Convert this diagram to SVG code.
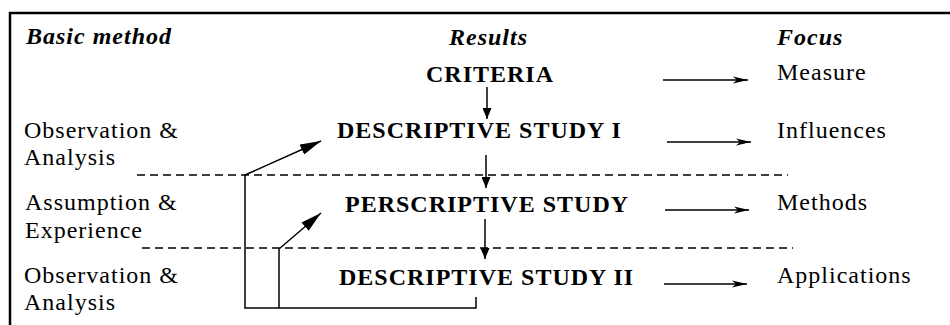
<svg xmlns="http://www.w3.org/2000/svg" width="950" height="325" viewBox="0 0 950 325">
<style>
text{font-family:"Liberation Serif","Times New Roman",serif;font-size:24px;fill:#000;letter-spacing:1px}
.h{font-weight:bold;font-style:italic}
.b{font-weight:bold}
.ln{stroke:#000;stroke-width:1.5;fill:none}
.dash{stroke:#000;stroke-width:1.5;stroke-dasharray:8,5;fill:none}
</style>
<defs>
<marker id="down" markerUnits="userSpaceOnUse" markerWidth="12" markerHeight="9" refX="11" refY="4.5" orient="auto"><path d="M0,0 L11,4.5 L0,9 z" fill="#000"/></marker>
<marker id="right" markerUnits="userSpaceOnUse" markerWidth="16" markerHeight="8" refX="15" refY="4" orient="auto"><path d="M0,0.5 L15,4 L0,7.5 L4,4 z" fill="#000"/></marker>
<marker id="diag" markerUnits="userSpaceOnUse" markerWidth="22" markerHeight="11" refX="21" refY="5.5" orient="auto"><path d="M0,0 L21,5.5 L0,11 z" fill="#000"/></marker>
</defs>
<g id="frame">
<line x1="9" y1="13" x2="950" y2="13" stroke="#000" stroke-width="2.5"/>
<line x1="10" y1="12" x2="10" y2="325" stroke="#000" stroke-width="2.5"/>
</g>
<g id="headers">
<text class="h" x="26" y="44">Basic method</text>
<text class="h" x="449" y="45">Results</text>
<text class="h" x="777" y="45">Focus</text>
</g>
<g id="criteria"><text class="b" x="426" y="82">CRITERIA</text></g>
<g id="measure"><text x="777" y="80">Measure</text></g>
<g id="method1"><text x="24" y="138">Observation &amp;</text><text x="24" y="165">Analysis</text></g>
<g id="ds1"><text class="b" x="337" y="138">DESCRIPTIVE STUDY I</text></g>
<g id="influences"><text x="777" y="138">Influences</text></g>
<g id="method2"><text x="25" y="210">Assumption &amp;</text><text x="25" y="238">Experience</text></g>
<g id="ps"><text class="b" x="345" y="212">PERSCRIPTIVE STUDY</text></g>
<g id="methods"><text x="777" y="210">Methods</text></g>
<g id="method3"><text x="24" y="283">Observation &amp;</text><text x="24" y="310">Analysis</text></g>
<g id="ds2"><text class="b" x="339" y="285">DESCRIPTIVE STUDY II</text></g>
<g id="applications"><text x="777" y="283">Applications</text></g>
<g id="connectors">
<line class="dash" x1="137" y1="175" x2="788" y2="175"/>
<line class="dash" x1="142" y1="248" x2="793" y2="248"/>
<line class="ln" x1="487" y1="87" x2="487" y2="119" marker-end="url(#down)"/>
<line class="ln" x1="486" y1="155" x2="486" y2="188" marker-end="url(#down)"/>
<line class="ln" x1="485" y1="219" x2="485" y2="259" marker-end="url(#down)"/>
<line class="ln" x1="663" y1="80" x2="748" y2="80" marker-end="url(#right)"/>
<line class="ln" x1="667" y1="142" x2="751" y2="142" marker-end="url(#right)"/>
<line class="ln" x1="665" y1="210" x2="749" y2="210" marker-end="url(#right)"/>
<line class="ln" x1="664" y1="284" x2="747" y2="284" marker-end="url(#right)"/>
<polyline class="ln" points="476,297 476,308 245,308 245,175"/>
<line class="ln" x1="245" y1="175" x2="321" y2="141" marker-end="url(#diag)"/>
<line class="ln" x1="279" y1="308" x2="279" y2="249"/>
<line class="ln" x1="279" y1="249" x2="321" y2="213" marker-end="url(#diag)"/>
</g>
</svg>
